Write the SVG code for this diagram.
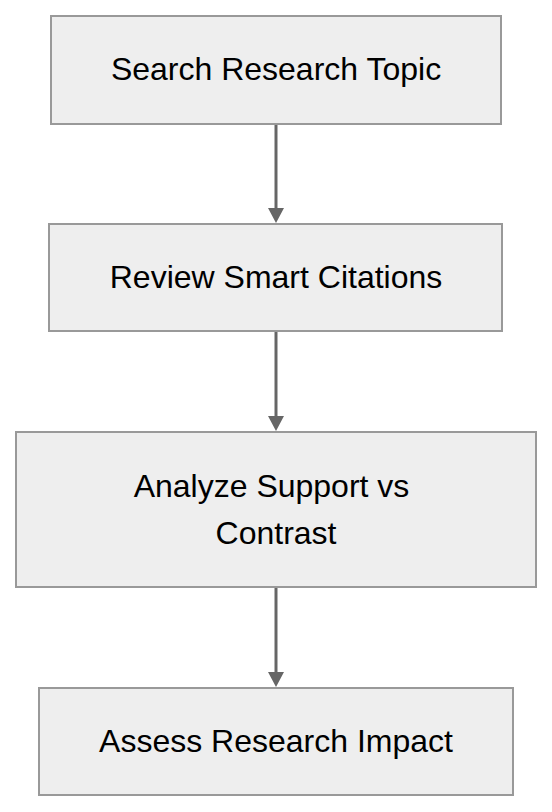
<svg xmlns="http://www.w3.org/2000/svg" width="552" height="812" viewBox="0 0 552 812">
<style>
.box{fill:#eeeeee;stroke:#999999;stroke-width:2}
.lbl{font-family:"Liberation Sans",Arial,sans-serif;font-size:32px;fill:#000;text-anchor:middle}
.edge{stroke:#666666;stroke-width:3;fill:none}
.head{fill:#666666}
</style>
<rect width="552" height="812" fill="#ffffff"/>
<g id="connectors">
<line class="edge" x1="276" y1="124" x2="276" y2="209"/>
<polygon class="head" points="268,208 284,208 276,223"/>
<line class="edge" x1="276" y1="331" x2="276" y2="417"/>
<polygon class="head" points="268,416 284,416 276,431"/>
<line class="edge" x1="276" y1="588" x2="276" y2="673"/>
<polygon class="head" points="268,672 284,672 276,687"/>
</g>
<g id="n1">
<rect class="box" x="51" y="16" width="450" height="108"/>
<text class="lbl" x="276" y="79.5">Search Research Topic</text>
</g>
<g id="n2">
<rect class="box" x="49" y="224" width="453" height="107"/>
<text class="lbl" x="276" y="287.5">Review Smart Citations</text>
</g>
<g id="n3">
<rect class="box" x="16" y="432" width="520" height="155"/>
<text class="lbl" x="271.5" y="497">Analyze Support vs</text>
<text class="lbl" x="276" y="543.5">Contrast</text>
</g>
<g id="n4">
<rect class="box" x="39" y="688" width="474" height="107"/>
<text class="lbl" x="276" y="752">Assess Research Impact</text>
</g>
</svg>
